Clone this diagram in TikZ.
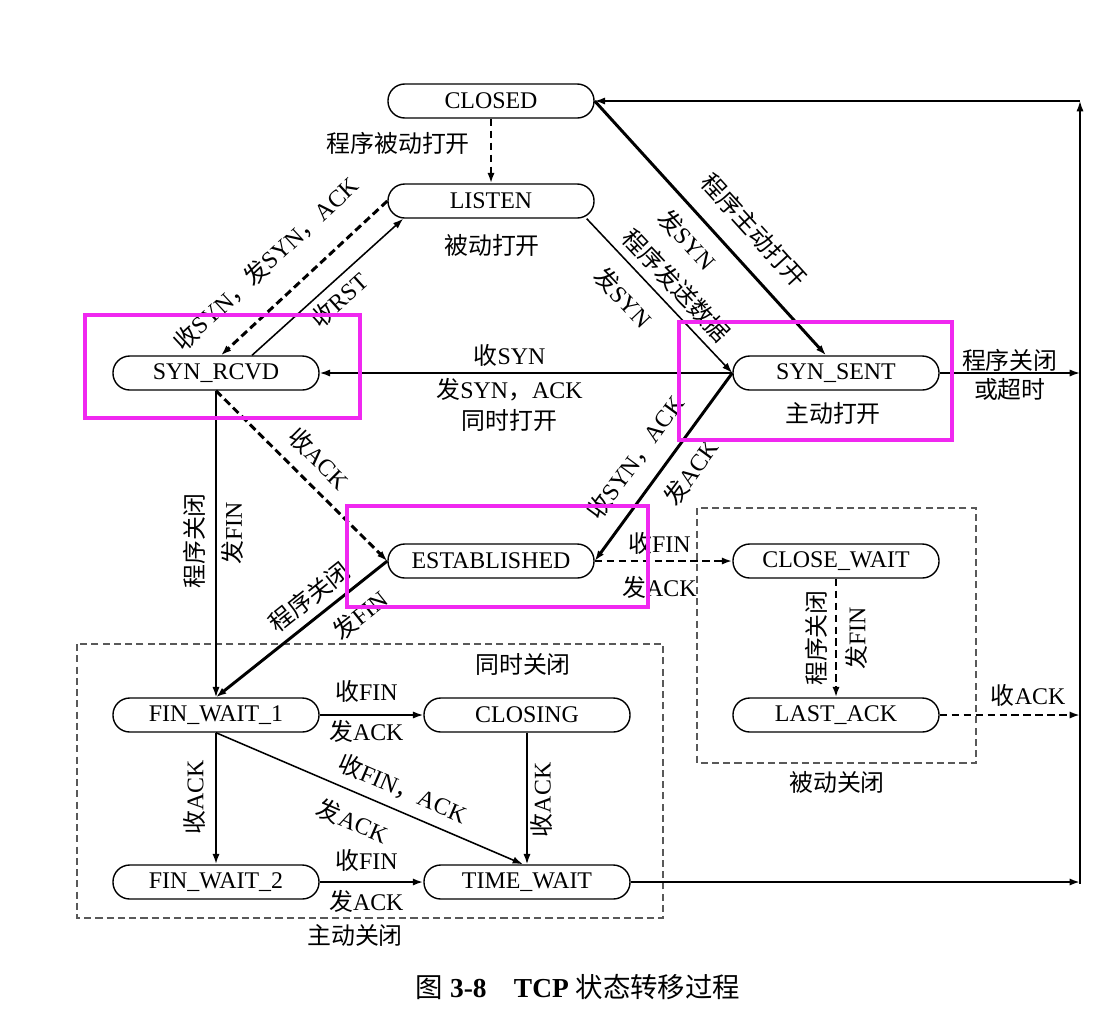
\documentclass[tikz,border=0pt]{standalone}
\usepackage{fontspec}
\setmainfont{Liberation Serif}
\newfontfamily\cjk{Noto Sans CJK SC}
\newcommand{\zh}[1]{{\cjk #1}}
\usetikzlibrary{arrows.meta}
\usetikzlibrary{calc}
\usetikzlibrary{positioning}
\tikzset{>={Latex[width=1.8mm,length=2.6mm]}}
\definecolor{hilite}{RGB}{240,40,240}
\tikzset{
  stbox/.style={draw, line width=1pt, rounded corners=0.42cm,
    minimum width=5.15cm, minimum height=0.85cm, inner sep=0pt},
  slim/.style={->, line width=1.1pt},
  heavy/.style={->, line width=2.1pt},
  dashy/.style={->, line width=2.1pt, dash pattern=on 5.5pt off 3pt},
  grp/.style={draw=black!65, line width=0.9pt, dash pattern=on 5pt off 3pt},
  markbox/.style={draw=hilite, line width=2.2pt},
  lsep/.style={inner sep=#1},
  lsep/.default=1.5pt
}

\begin{document}
\begin{tikzpicture}[x=0.025cm, y=-0.025cm, font=\fontsize{17}{22}\selectfont]

  \useasboundingbox (0,0) rectangle (1104,1008);

  % states
  \node[stbox] (closed) at (491,101) {CLOSED};
  \node[stbox] (listen) at (491,201) {LISTEN};
  \node[stbox] (synrcvd) at (216,373) {SYN\_RCVD};
  \node[stbox] (synsent) at (836,373) {SYN\_SENT};
  \node[stbox] (estab) at (491,561) {ESTABLISHED};
  \node[stbox] (closewait) at (836,561) {CLOSE\_WAIT};
  \node[stbox] (lastack) at (836,715) {LAST\_ACK};
  \node[stbox] (finwait1) at (216,715) {FIN\_WAIT\_1};
  \node[stbox] (closing) at (527,715) {CLOSING};
  \node[stbox] (finwait2) at (216,882) {FIN\_WAIT\_2};
  \node[stbox] (timewait) at (527,882) {TIME\_WAIT};

  \node (passive) at (492,245) {\zh{被动打开}};
  \node (active) at (833,413) {\zh{主动打开}};
  \node (simclose) at (523,664) {\zh{同时关闭}};
  \node (actclose) at (355,935) {\zh{主动关闭}};
  \node (pasclose) at (837,782) {\zh{被动关闭}};

  % right return line
  \coordinate (rtop) at (1080,101);
  \coordinate (rsyn) at (1080,373);
  \coordinate (rlast) at (1080,715);
  \coordinate (rtime) at (1080,882);
  \coordinate (rbot) at (1080,884);

  \draw[grp] (77,644) rectangle (663,918);
  \draw[grp] (697,508) rectangle (976,763);

  % opening
  \draw[dashy] (closed) -- (listen)
    node[pos=.39, left, lsep=14pt] {\zh{程序被动打开}};
  \draw[dashy] (listen.west) -- ($(synrcvd.north)+(5,0)$)
    node[pos=.58, sloped, above, lsep=17pt] {\zh{收}SYN\zh{，发}SYN\zh{，}ACK};
  \draw[slim] ($(synrcvd.north)+(36,0)$) -- ($(listen.south west)+(16,0)$)
    node[pos=.5, sloped, below, lsep=4pt] {\zh{收}RST};
  \draw[heavy] (closed.east) -- ($(synsent.north)+(-10,0)$)
    node[pos=.59, sloped, above, lsep=13pt] {\zh{程序主动打开}}
    node[pos=.48, sloped, below, lsep=8.5pt] {\zh{发}SYN};
  \draw[slim] ($(listen.south east)+(-8,0)$) -- (synsent.west)
    node[pos=.52, sloped, above, lsep=5.5pt] {\zh{程序发送数据}}
    node[pos=.39, sloped, below, lsep=11pt] {\zh{发}SYN};
  \draw[slim] (synsent.west) -- (synrcvd.east)
    node[pos=.54, above, lsep=4pt] {\zh{收}SYN}
    node[pos=.54, below, lsep=3.5pt, align=center] {\zh{发}SYN\zh{，}ACK\\\zh{同时打开}};
  \draw[dashy] (synrcvd.south) -- (estab.west)
    node[pos=.5, sloped, above, lsep=8.5pt] {\zh{收}ACK};
  \draw[heavy] (synsent.west) -- (estab.east)
    node[pos=.54, sloped, above, lsep=11pt] {\zh{收}SYN\zh{，}ACK}
    node[pos=.45, sloped, below, lsep=9pt] {\zh{发}ACK};

  % closing
  \draw[dashy] (estab.east) -- (closewait.west)
    node[pos=.47, above, lsep=3.5pt] {\zh{收}FIN}
    node[pos=.47, below, lsep=10pt] {\zh{发}ACK};
  \draw[slim] (synrcvd.south) -- (finwait1.north)
    node[pos=.49, rotate=90, anchor=south, lsep=7pt] {\zh{程序关闭}}
    node[pos=.465, rotate=90, anchor=north, lsep=3.5pt] {\zh{发}FIN};
  \draw[heavy] (estab.west) -- (finwait1.north)
    node[pos=.38, sloped, above, lsep=5.5pt] {\zh{程序关闭}}
    node[pos=.25, sloped, below, lsep=9pt] {\zh{发}FIN};
  \draw[dashy] (closewait.south) -- (lastack.north)
    node[pos=.5, rotate=90, anchor=south, lsep=5pt] {\zh{程序关闭}}
    node[pos=.5, rotate=90, anchor=north, lsep=5.5pt] {\zh{发}FIN};
  \draw[dashy] (lastack.east) -- (rlast)
    node[pos=.63, above, lsep=5pt] {\zh{收}ACK};
  \draw[slim] (synsent.east) -- (rsyn)
    node[pos=.5, above, lsep=.5pt] {\zh{程序关闭}}
    node[pos=.5, below, lsep=3.5pt] {\zh{或超时}};
  \draw[slim] (finwait1.east) -- (closing.west)
    node[pos=.45, above, lsep=8.5pt] {\zh{收}FIN}
    node[pos=.45, below, lsep=3pt] {\zh{发}ACK};
  \draw[heavy] (finwait1.south) -- (finwait2.north)
    node[pos=.49, rotate=90, anchor=south, lsep=6.5pt] {\zh{收}ACK};
  \draw[slim] (finwait1.south) -- ($(timewait.north)+(-4,0)$)
    node[pos=.58, sloped, above, lsep=7pt] {\zh{收}FIN\zh{，}ACK}
    node[pos=.48, sloped, below, lsep=11pt] {\zh{发}ACK};
  \draw[slim] (closing.south) -- (timewait.north)
    node[pos=.51, rotate=90, anchor=north, lsep=2pt] {\zh{收}ACK};
  \draw[heavy] (finwait2.east) -- (timewait.west)
    node[pos=.45, above, lsep=6.5pt] {\zh{收}FIN}
    node[pos=.45, below, lsep=5pt] {\zh{发}ACK};
  \draw[heavy] (timewait.east) -- (rtime);

  \draw[slim] (rbot) -- (rtop);
  \draw[slim] (rtop) -- (closed.east);

  % highlight frames
  \draw[markbox] (85,315) rectangle (360,418);
  \draw[markbox] (679,322) rectangle (952,440);
  \draw[markbox] (347,506) rectangle (648,607);

  \node (caption) at (578,987) {\fontsize{19.5}{22}\selectfont\zh{图} \textbf{3-8}\quad\textbf{TCP} \zh{状态转移过程}};

\end{tikzpicture}
\end{document}
